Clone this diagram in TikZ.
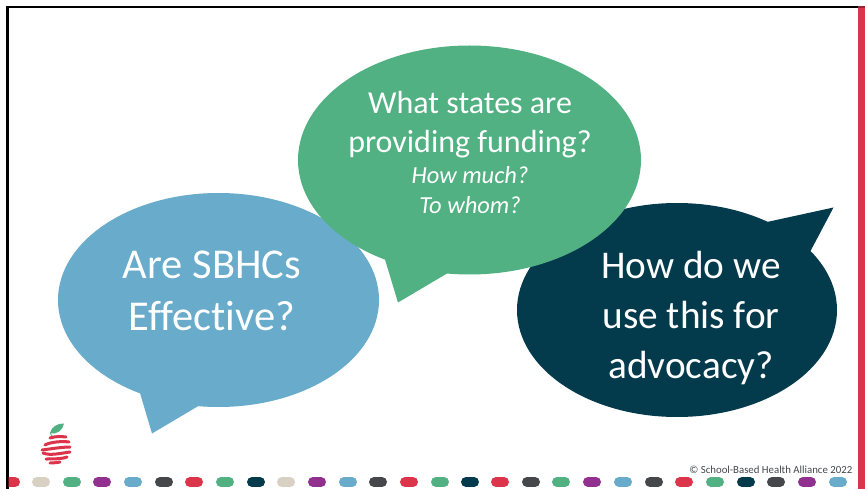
\documentclass[tikz,border=0pt]{standalone}
\usepackage{fontspec}
\setmainfont[Ligatures=NoCommon]{Carlito}
\definecolor{cred}{HTML}{DC344B}
\definecolor{cbeige}{HTML}{D8D0C2}
\definecolor{cgreen}{HTML}{52B182}
\definecolor{cpurple}{HTML}{92308F}
\definecolor{cblue}{HTML}{68ABCA}
\definecolor{cgrey}{HTML}{45474B}
\definecolor{cnavy}{HTML}{033A4C}
\tikzset{
  bubbletext/.style={text=white,align=center,inner sep=0pt},
  pill/.style={line width=10pt,line cap=round},
  rib/.style={cred,line width=3pt,line cap=round},
}
\newcommand{\pillat}[2]{\draw[pill,#2] (#1-4,-482) -- (#1+4,-482);}
\begin{document}
\begin{tikzpicture}[x=1pt,y=1pt]
\useasboundingbox (0,0) rectangle (865,-489);
\fill[white] (0,0) rectangle (865,-489);
% frame
\fill[black] (6,-6) rectangle (865,-8.5);
\fill[black] (6,-6) rectangle (8.5,-489);
\fill[cred] (858,-8.5) rectangle (865,-489);
\fill[cred!70!black] (858,-6) rectangle (865,-8.5);
% pills
\begin{scope}
\clip (8.5,-470) rectangle (865,-489);
\pillat{11}{cred}
\pillat{41}{cbeige}\pillat{72}{cgreen}\pillat{102}{cpurple}\pillat{133}{cblue}
\pillat{164}{cgrey}\pillat{194}{cred}\pillat{225}{cgreen}\pillat{256}{cnavy}
\pillat{286}{cbeige}\pillat{317}{cpurple}\pillat{348}{cblue}\pillat{378}{cgrey}
\pillat{409}{cred}\pillat{440}{cgreen}\pillat{470}{cnavy}\pillat{500}{cred}
\pillat{531}{cgrey}\pillat{561}{cgreen}\pillat{592}{cpurple}\pillat{623}{cblue}
\pillat{654}{cgrey}\pillat{684}{cred}\pillat{715}{cgreen}\pillat{746}{cnavy}
\pillat{776}{cgrey}\pillat{807}{cpurple}\pillat{838}{cblue}
\end{scope}
% navy bubble
\fill[cnavy] (677,-310) ellipse [x radius=160,y radius=107];
\fill[cnavy] (767,-222) -- (833.5,-207.5) -- (810.5,-251) -- (700,-300) -- cycle;
% blue bubble
\fill[cblue] (218.5,-300) ellipse [x radius=160.5,y radius=107];
\fill[cblue] (140,-393) -- (152,-433.5) -- (197.5,-406.5) -- (220,-300) -- cycle;
% green bubble
\fill[cgreen] (469.5,-160) ellipse [x radius=171.5,y radius=114.5];
\fill[cgreen] (385,-259.5) -- (398,-302.5) -- (447,-273.5) -- (470,-160) -- cycle;
% text
\node[bubbletext,font=\fontsize{42.5}{52}\selectfont] (q1) at (212,-291) {Are SBHCs\\Effective?};
\node[bubbletext,font=\fontsize{32}{39}\selectfont] (q2) at (470,-125) {What states are\\providing funding?};
\node[bubbletext,font=\fontsize{24.5}{30}\selectfont\itshape] (q2b) at (470,-190) {How much?\\To whom?};
\node[bubbletext,font=\fontsize{39.3}{50}\selectfont] (q3) at (691,-318) {How do we\\use this for\\advocacy?};
\node[inner sep=0pt,anchor=east,text=cgrey,font=\fontsize{10.8}{12}\selectfont] (cr) at (852.5,-469.5) {© School-Based Health Alliance 2022};
% apple
\fill[cgreen] (50,-433) .. controls (51,-427) and (58,-423) .. (64,-423.5) .. controls (63,-430) and (57,-435) .. (50,-433) -- cycle;
\draw[cgreen,line width=.7pt] (50,-433) -- (53,-437);
\draw[rib] (50,-438) .. controls (56,-436) and (62,-436.5) .. (66,-437);
\draw[rib] (45,-445) .. controls (50,-442) and (62,-441) .. (69,-442);
\draw[rib] (42,-450) .. controls (50,-449) and (62,-447) .. (70,-447);
\draw[rib] (43,-453) .. controls (50,-456) and (62,-453) .. (70,-452);
\draw[rib] (46,-459) .. controls (52,-459) and (62,-459) .. (67,-457);
\draw[rib] (50,-463) .. controls (53,-463) and (58,-462.5) .. (60,-462);
\end{tikzpicture}
\end{document}
